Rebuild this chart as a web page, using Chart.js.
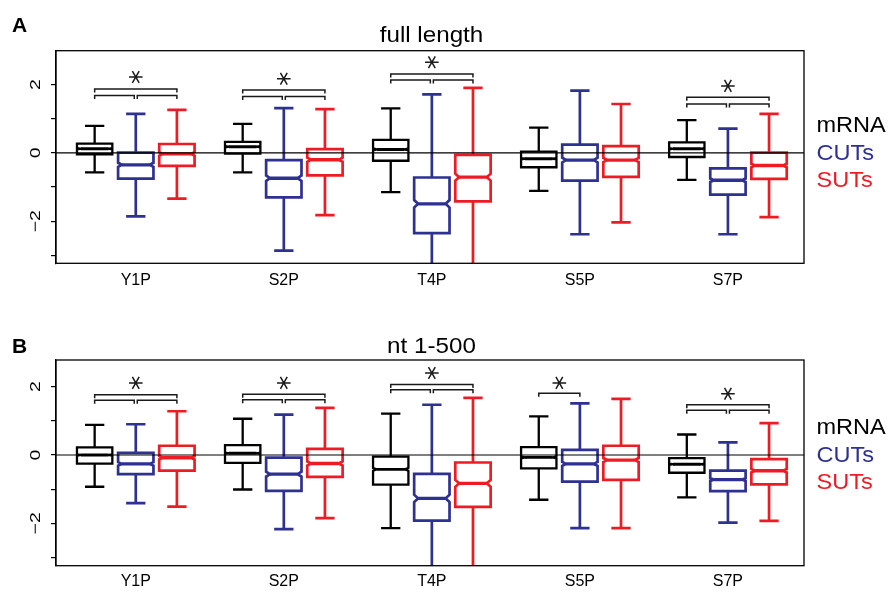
<!DOCTYPE html>
<html>
<head>
<meta charset="utf-8">
<script src="https://cdn.jsdelivr.net/npm/chart.js@4/dist/chart.umd.min.js"></script>
<style>
  html, body { margin: 0; padding: 0; background: #fff; }
  #wrap { position: relative; width: 891px; height: 592px; }
  .pan { position: absolute; left: 0; width: 891px; height: 296px; }
</style>
</head>
<body>
<div id="wrap">
  <div class="pan" style="top:0"><canvas id="cA" width="891" height="296"></canvas></div>
  <div class="pan" style="top:296px"><canvas id="cB" width="891" height="296"></canvas></div>
</div>
<script>
// ---------- data ----------
const categories = ['Y1P', 'S2P', 'T4P', 'S5P', 'S7P'];
const seriesNames = ['mRNA', 'CUTs', 'SUTs'];
const seriesColors = ['#000000', '#2e3192', '#ed1c24'];
const yTickLabels = ['2', '0', '\u22122'];
const yTickLabelValues = [2, 0, -2];

// each box: [lower whisker, Q1, median, Q3, upper whisker, notch half-height]
// Panel A: full length
const fullMRNA = [[-0.57, -0.04, 0.12, 0.27, 0.79, 0.02], [-0.57, -0.02, 0.18, 0.32, 0.85, 0.02], [-1.15, -0.23, 0.10, 0.38, 1.30, 0.03], [-1.11, -0.42, -0.17, 0.04, 0.74, 0.02], [-0.79, -0.12, 0.12, 0.31, 0.96, 0.02]];
const fullCUTs = [[-1.86, -0.75, -0.35, 0.01, 1.14, 0.06], [-2.86, -1.30, -0.74, -0.21, 1.31, 0.08], [-3.80, -2.35, -1.49, -0.72, 1.71, 0.11], [-2.38, -0.81, -0.21, 0.24, 1.82, 0.07], [-2.38, -1.22, -0.80, -0.45, 0.71, 0.05]];
const fullSUTs = [[-1.34, -0.38, -0.03, 0.26, 1.26, 0.05], [-1.82, -0.66, -0.20, 0.11, 1.28, 0.06], [-3.80, -1.42, -0.71, -0.06, 1.90, 0.10], [-2.03, -0.70, -0.21, 0.20, 1.43, 0.06], [-1.88, -0.76, -0.37, 0.01, 1.14, 0.05]];
// Panel B: nt 1-500
const ntMRNA = [[-0.93, -0.25, 0.00, 0.22, 0.88, 0.02], [-1.01, -0.23, 0.05, 0.29, 1.06, 0.02], [-2.14, -0.87, -0.42, -0.05, 1.21, 0.04], [-1.31, -0.39, -0.07, 0.23, 1.13, 0.03], [-1.24, -0.52, -0.27, -0.09, 0.60, 0.02]];
const ntCUTs = [[-1.41, -0.56, -0.26, 0.06, 0.90, 0.05], [-2.17, -1.05, -0.56, -0.08, 1.18, 0.07], [-3.80, -1.92, -1.27, -0.55, 1.47, 0.11], [-2.14, -0.78, -0.26, 0.15, 1.51, 0.06], [-1.98, -1.06, -0.72, -0.46, 0.37, 0.04]];
const ntSUTs = [[-1.51, -0.46, -0.08, 0.27, 1.28, 0.05], [-1.85, -0.64, -0.25, 0.18, 1.38, 0.06], [-3.80, -1.52, -0.83, -0.22, 1.67, 0.10], [-2.14, -0.73, -0.15, 0.27, 1.64, 0.06], [-1.93, -0.86, -0.46, -0.12, 0.93, 0.05]];

// significance brackets (group index, outer bracket y, inner bracket y (null = single pair), star y)
const sigGroupsA = [0, 1, 2, 4];
const sigOuterA = [1.87, 1.84, 2.31, 1.63];
const sigInnerA = [1.68, 1.65, 2.13, 1.43];
const sigStarA = [2.22, 2.17, 2.65, 1.96];
const sigGroupsB = [0, 1, 2, 3, 4];
const sigOuterB = [1.76, 1.78, 2.06, 1.81, 1.47];
const sigInnerB = [1.60, 1.62, 1.91, null, 1.31];
const sigStarB = [2.11, 2.11, 2.40, 2.11, 1.79];

// ---------- drawing ----------
const FONT = "Arial, 'Liberation Sans', Helvetica, sans-serif";
const GROUP_STEP = 3.6;
const groupPos = g => 1 + GROUP_STEP * g;

function drawBox(ctx, X, Y, pos, st, color, lw) {
  const [lo, q1, med, q3, hi, nt] = st;
  const xc = X(pos);
  const hw = X(pos + 0.43) - xc;
  const cw = X(pos + 0.235) - xc;
  const f = 0.78;
  ctx.strokeStyle = color;
  ctx.lineWidth = lw;
  ctx.lineJoin = 'miter';
  ctx.lineCap = 'butt';
  ctx.beginPath();
  ctx.moveTo(xc, Y(q3)); ctx.lineTo(xc, Y(hi));
  ctx.moveTo(xc, Y(q1)); ctx.lineTo(xc, Y(lo));
  ctx.moveTo(xc - cw, Y(hi)); ctx.lineTo(xc + cw, Y(hi));
  ctx.moveTo(xc - cw, Y(lo)); ctx.lineTo(xc + cw, Y(lo));
  ctx.stroke();
  ctx.beginPath();
  ctx.moveTo(xc - hw, Y(q1));
  ctx.lineTo(xc + hw, Y(q1));
  ctx.lineTo(xc + hw, Y(med - nt));
  ctx.lineTo(xc + f * hw, Y(med));
  ctx.lineTo(xc + hw, Y(med + nt));
  ctx.lineTo(xc + hw, Y(q3));
  ctx.lineTo(xc - hw, Y(q3));
  ctx.lineTo(xc - hw, Y(med + nt));
  ctx.lineTo(xc - f * hw, Y(med));
  ctx.lineTo(xc - hw, Y(med - nt));
  ctx.closePath();
  ctx.stroke();
  ctx.lineWidth = lw * 1.25;
  ctx.beginPath();
  ctx.moveTo(xc - f * hw, Y(med)); ctx.lineTo(xc + f * hw, Y(med));
  ctx.stroke();
}

function bracket(ctx, x0, x1, y) {
  ctx.beginPath();
  ctx.moveTo(x0, y + 3.5); ctx.lineTo(x0, y); ctx.lineTo(x1, y); ctx.lineTo(x1, y + 3.5);
  ctx.stroke();
}

function star(ctx, x, y) {
  const r = 6.8;
  ctx.beginPath();
  ctx.moveTo(x - r, y); ctx.lineTo(x + r, y);
  ctx.moveTo(x - r * 0.5, y - r * 0.87); ctx.lineTo(x + r * 0.5, y + r * 0.87);
  ctx.moveTo(x + r * 0.5, y - r * 0.87); ctx.lineTo(x - r * 0.5, y + r * 0.87);
  ctx.stroke();
}

function stretchedText(ctx, txt, x, y, sx, align) {
  ctx.save();
  ctx.translate(x, y);
  ctx.scale(sx, 1);
  ctx.textAlign = align || 'left';
  ctx.fillText(txt, 0, 0);
  ctx.restore();
}

function makePanel(id, P) {
  const plugin = {
    id: 'boxes_' + id,
    afterDraw(chart) {
      const ctx = chart.ctx, xs = chart.scales.x, ys = chart.scales.y, a = chart.chartArea;
      const X = v => xs.getPixelForValue(v), Y = v => ys.getPixelForValue(v);
      ctx.save();
      ctx.beginPath();
      ctx.rect(a.left, a.top, a.right - a.left, a.bottom - a.top);
      ctx.clip();
      P.series.forEach((vals, si) => {
        vals.forEach((st, gi) => {
          drawBox(ctx, X, Y, groupPos(gi) + si, st, seriesColors[si], si === 0 ? 2.3 : 2.7);
        });
      });
      ctx.strokeStyle = '#000'; ctx.lineWidth = 1.2;
      ctx.beginPath(); ctx.moveTo(a.left, Y(0)); ctx.lineTo(a.right, Y(0)); ctx.stroke();
      ctx.strokeStyle = '#1a1a1a'; ctx.lineWidth = 1.5; ctx.lineCap = 'butt';
      P.sigGroups.forEach((g, k) => {
        const x0 = X(groupPos(g)), x1 = X(groupPos(g) + 1), x2 = X(groupPos(g) + 2);
        if (P.sigInner[k] === null) {
          bracket(ctx, x0, x1, Y(P.sigOuter[k]));
          star(ctx, (x0 + x1) / 2, Y(P.sigStar[k]));
        } else {
          bracket(ctx, x0, x2, Y(P.sigOuter[k]));
          bracket(ctx, x0, x1 - 1.5, Y(P.sigInner[k]));
          bracket(ctx, x1 + 1.5, x2, Y(P.sigInner[k]));
          star(ctx, x1, Y(P.sigStar[k]));
        }
      });
      ctx.restore();

      ctx.save();
      ctx.strokeStyle = '#000'; ctx.lineWidth = 1.3;
      ctx.strokeRect(a.left, a.top, a.right - a.left, a.bottom - a.top);
      ctx.fillStyle = '#000';
      ctx.font = '15px ' + FONT;
      yTickLabelValues.forEach((v, i) => {
        ctx.save();
        ctx.translate(a.left - 20, Y(v));
        ctx.rotate(-Math.PI / 2);
        ctx.scale(1.3, 1);
        ctx.textAlign = 'center';
        ctx.textBaseline = 'middle';
        ctx.fillText(yTickLabels[i], 0, 0);
        ctx.restore();
      });
      ctx.fillStyle = '#000';
      ctx.font = 'bold 21px ' + FONT;
      ctx.textBaseline = 'alphabetic';
      ctx.fillText(P.letter, 12, P.letterY);
      ctx.font = '22px ' + FONT;
      stretchedText(ctx, P.title, 431.5, a.top - P.titleGap, 1.1, 'center');
      ctx.font = '22px ' + FONT;
      const y0 = Y(0);
      const offs = [-21.3, 7, 33.7];
      seriesNames.forEach((n, i) => {
        ctx.fillStyle = seriesColors[i];
        stretchedText(ctx, n, 816.5, y0 + offs[i], 1.07, 'left');
      });
      ctx.restore();
    }
  };

  return new Chart(document.getElementById(id), {
    type: 'scatter',
    data: { datasets: [] },
    options: {
      responsive: false,
      animation: false,
      devicePixelRatio: 1,
      layout: { padding: { left: 16, right: 87, top: P.top, bottom: 0 } },
      plugins: { legend: { display: false }, tooltip: { enabled: false }, title: { display: false } },
      scales: {
        x: {
          type: 'linear', min: 0.06, max: 18.25,
          afterBuildTicks: s => { s.ticks = categories.map((c, i) => ({ value: groupPos(i) + 1 })); },
          afterFit: s => { s.height = P.xAxisH; },
          ticks: {
            autoSkip: false, maxRotation: 0, minRotation: 0, padding: P.xPad,
            color: '#000', font: { family: FONT, size: 16 },
            callback: (v, i) => categories[i]
          },
          grid: { display: false, drawTicks: false },
          border: { display: false }
        },
        y: {
          type: 'linear', min: P.ymin, max: P.ymax,
          afterBuildTicks: s => { s.ticks = [-3, -2, -1, 0, 1, 2, 3].filter(v => v >= P.ymin && v <= P.ymax).map(v => ({ value: v })); },
          afterFit: s => { s.width = 40; },
          ticks: { display: false },
          grid: { drawOnChartArea: false, drawTicks: true, tickLength: 5, color: '#000', lineWidth: 1.2 },
          border: { display: true, color: '#000', width: 1.2 }
        }
      }
    },
    plugins: [plugin]
  });
}

makePanel('cA', {
  series: [fullMRNA, fullCUTs, fullSUTs],
  sigGroups: sigGroupsA, sigOuter: sigOuterA, sigInner: sigInnerA, sigStar: sigStarA,
  ymin: -3.23, ymax: 2.99, top: 50.7, xAxisH: 32.7, xPad: 8,
  title: 'full length', titleGap: 8.4, letter: 'A', letterY: 31.7
});
makePanel('cB', {
  series: [ntMRNA, ntCUTs, ntSUTs],
  sigGroups: sigGroupsB, sigOuter: sigOuterB, sigInner: sigInnerB, sigStar: sigStarB,
  ymin: -3.24, ymax: 2.78, top: 64, xAxisH: 26.3, xPad: 6,
  title: 'nt 1-500', titleGap: 7.3, letter: 'B', letterY: 56.7
});
</script>
</body>
</html>
